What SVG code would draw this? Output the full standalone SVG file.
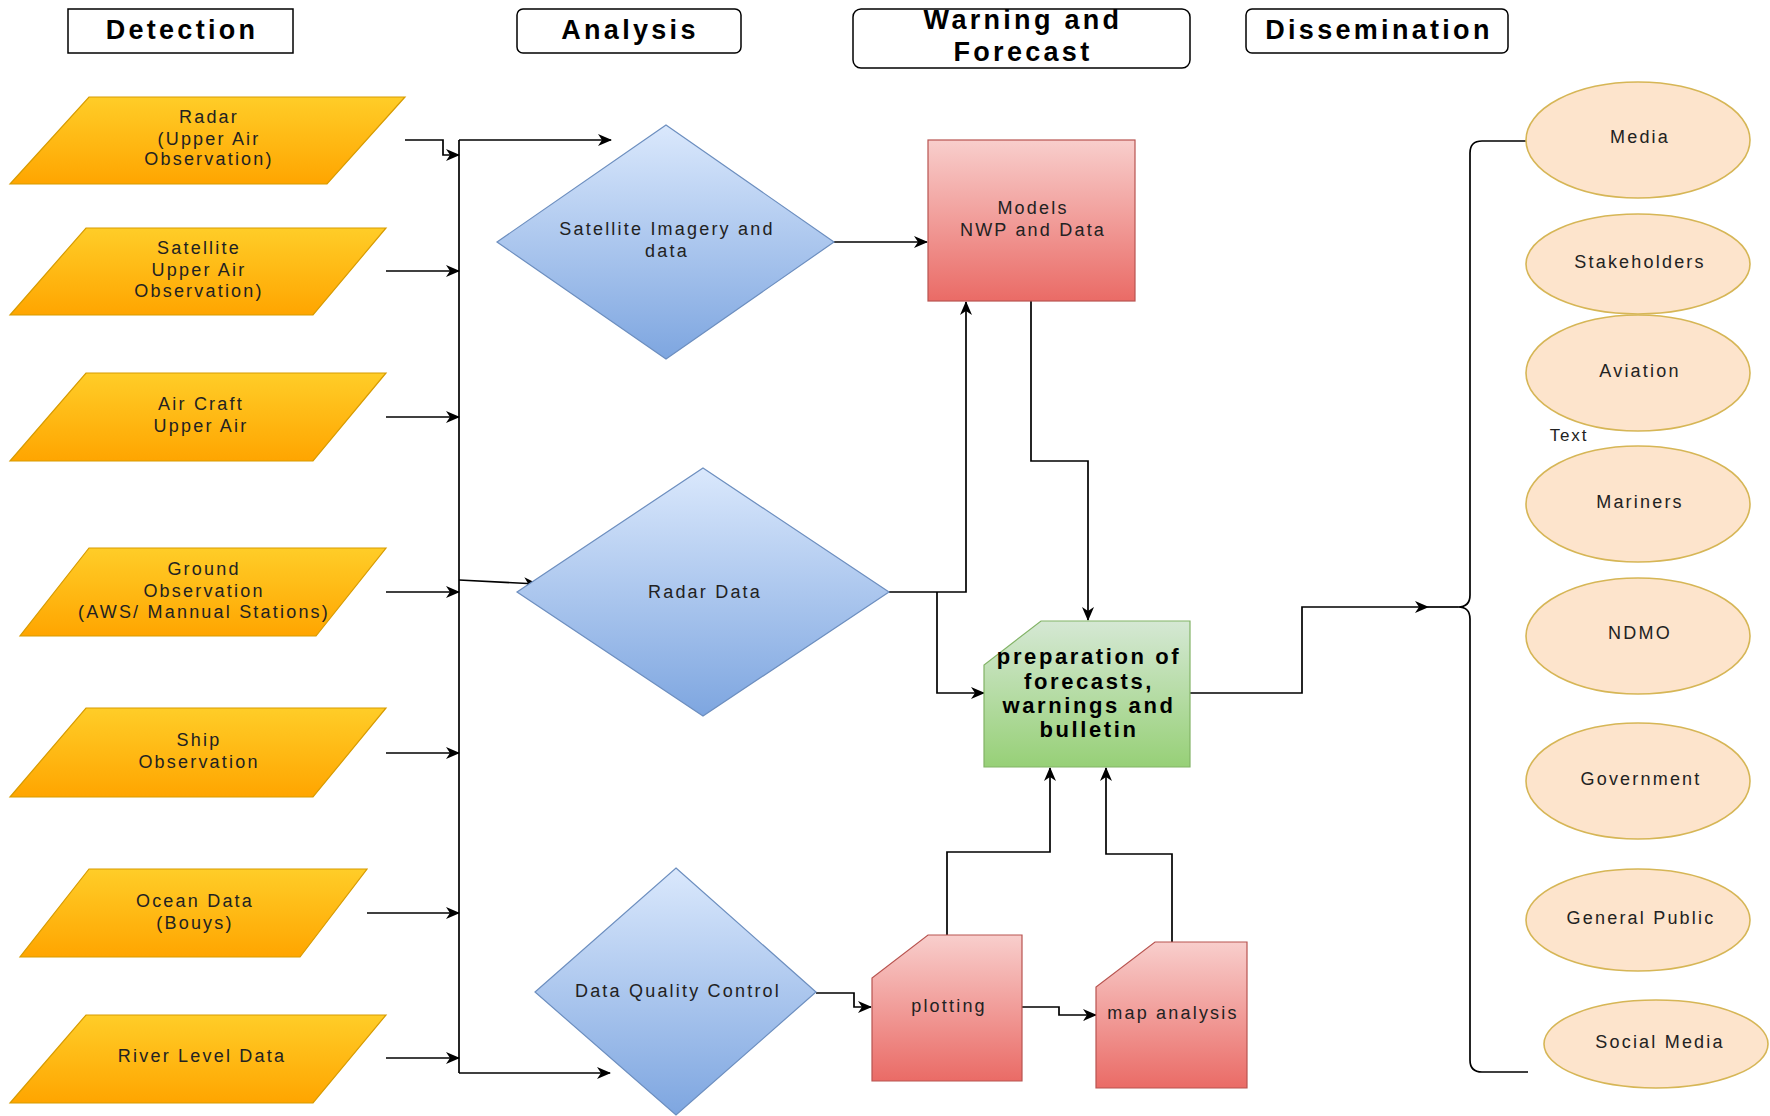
<svg xmlns="http://www.w3.org/2000/svg" width="1770" height="1116" viewBox="0 0 1770 1116">
<defs>
<linearGradient id="gOr" x1="0" y1="0" x2="0" y2="1"><stop offset="0" stop-color="#ffcd28"/><stop offset="1" stop-color="#ffa500"/></linearGradient>
<linearGradient id="gBl" x1="0" y1="0" x2="0" y2="1"><stop offset="0" stop-color="#dae8fc"/><stop offset="1" stop-color="#7ea6e0"/></linearGradient>
<linearGradient id="gRd" x1="0" y1="0" x2="0" y2="1"><stop offset="0" stop-color="#f8cecc"/><stop offset="1" stop-color="#ea6b66"/></linearGradient>
<linearGradient id="gGr" x1="0" y1="0" x2="0" y2="1"><stop offset="0" stop-color="#d5e8d4"/><stop offset="1" stop-color="#97d077"/></linearGradient>
<marker id="arr" markerUnits="userSpaceOnUse" markerWidth="14" markerHeight="12" viewBox="0 0 14 12" refX="13" refY="6" orient="auto">
<path d="M0,0 L14,6 L0,12 L4,6 Z" fill="#000"/>
</marker>
<style>
.hdr{fill:#fff;stroke:#000;stroke-width:1.5}
.ht{font-family:"Liberation Sans",Arial,sans-serif;font-size:27px;font-weight:bold;letter-spacing:3.3px;text-anchor:middle;fill:#000}
.t{font-family:"Liberation Sans",Arial,sans-serif;font-size:18px;letter-spacing:2.2px;text-anchor:middle;fill:#222}
.tb{font-family:"Liberation Sans",Arial,sans-serif;font-size:22px;font-weight:bold;letter-spacing:2.6px;text-anchor:middle;fill:#000}
.par{fill:url(#gOr);stroke:#d79b00;stroke-width:1.2}
.dia{fill:url(#gBl);stroke:#6c8ebf;stroke-width:1.2}
.red{fill:url(#gRd);stroke:#b85450;stroke-width:1.2}
.grn{fill:url(#gGr);stroke:#82b366;stroke-width:1.2}
.ell{fill:#fde4cc;stroke:#d6b656;stroke-width:1.6}
.c{fill:none;stroke:#000;stroke-width:1.7}
.ca{fill:none;stroke:#000;stroke-width:1.7;marker-end:url(#arr)}
</style>
</defs>
<rect width="1770" height="1116" fill="#fff"/>

<g id="hdr-detection"><rect class="hdr" x="68" y="9" width="225" height="44"/><text class="ht" x="182" y="39">Detection</text></g>
<g id="hdr-analysis"><rect class="hdr" x="517" y="9" width="224" height="44" rx="6"/><text class="ht" x="630" y="39">Analysis</text></g>
<g id="hdr-warning"><rect class="hdr" x="853" y="9" width="337" height="59" rx="8"/><text class="ht" x="1023" y="29">Warning and</text><text class="ht" x="1023" y="61">Forecast</text></g>
<g id="hdr-dissemination"><rect class="hdr" x="1246" y="9" width="262" height="44" rx="6"/><text class="ht" x="1379" y="39">Dissemination</text></g>

<g id="connectors">
<path class="ca" d="M405,140 H443 V155 H459"/>
<path class="c" d="M459,140 V1073"/>
<path class="ca" d="M459,140 H611"/>
<path class="ca" d="M459,1073 H610"/>
<path class="ca" d="M386,271 H459"/>
<path class="ca" d="M386,417 H459"/>
<path class="ca" d="M386,592 H459"/>
<path class="ca" d="M386,753 H459"/>
<path class="ca" d="M367,913 H459"/>
<path class="ca" d="M386,1058 H459"/>
<path class="ca" d="M459,580 L537,584"/>
<path class="ca" d="M834,242 H927"/>
<path class="ca" d="M889,592 H966 V302"/>
<path class="ca" d="M937,592 V693 H984"/>
<path class="ca" d="M1031,301 V461 H1088 V620"/>
<path class="ca" d="M1190,693 H1302 V607 H1428"/>
<path class="c" d="M1428,607 H1458"/>
<path class="c" d="M1528,141 H1482 Q1470,141 1470,153 V595 Q1470,607 1458,607 Q1470,607 1470,619 V1060 Q1470,1072 1482,1072 H1528"/>
<path class="ca" d="M816,993 H854 V1007 H871"/>
<path class="ca" d="M1022,1007 H1059 V1015 H1096"/>
<path class="ca" d="M947,935 V852 H1050 V768"/>
<path class="ca" d="M1172,942 V854 H1106 V768"/>
</g>

<g id="radar"><polygon class="par" points="89,97 405,97 327,184 10,184"/><text class="t" x="209" y="123">Radar</text><text class="t" x="209" y="145">(Upper Air</text><text class="t" x="209" y="165">Observation)</text></g>
<g id="satellite"><polygon class="par" points="86,228 386,228 313,315 10,315"/><text class="t" x="199" y="254">Satellite</text><text class="t" x="199" y="276">Upper Air</text><text class="t" x="199" y="297">Observation)</text></g>
<g id="aircraft"><polygon class="par" points="86,373 386,373 313,461 10,461"/><text class="t" x="201" y="410">Air Craft</text><text class="t" x="201" y="432">Upper Air</text></g>
<g id="ground"><polygon class="par" points="89,548 386,548 316,636 20,636"/><text class="t" x="204" y="575">Ground</text><text class="t" x="204" y="597">Observation</text><text class="t" x="204" y="618">(AWS/ Mannual Stations)</text></g>
<g id="ship"><polygon class="par" points="86,708 386,708 313,797 10,797"/><text class="t" x="199" y="746">Ship</text><text class="t" x="199" y="768">Observation</text></g>
<g id="ocean"><polygon class="par" points="89,869 367,869 300,957 20,957"/><text class="t" x="195" y="907">Ocean Data</text><text class="t" x="195" y="929">(Bouys)</text></g>
<g id="river"><polygon class="par" points="86,1015 386,1015 313,1103 10,1103"/><text class="t" x="202" y="1062">River Level Data</text></g>

<g id="sat-imagery"><polygon class="dia" points="666,125 834,242 666,359 497,242"/><text class="t" x="667" y="235">Satellite Imagery and</text><text class="t" x="667" y="257">data</text></g>
<g id="radar-data"><polygon class="dia" points="703,468 889,592 703,716 517,592"/><text class="t" x="705" y="598">Radar Data</text></g>
<g id="dqc"><polygon class="dia" points="676,868 816,992 676,1115 535,992"/><text class="t" x="678" y="997">Data Quality Control</text></g>

<g id="models"><rect class="red" x="928" y="140" width="207" height="161"/><text class="t" x="1033" y="214">Models</text><text class="t" x="1033" y="236">NWP and Data</text></g>
<g id="preparation"><polygon class="grn" points="1041,621 1190,621 1190,767 984,767 984,665"/><text class="tb" x="1089" y="664">preparation of</text><text class="tb" x="1089" y="689">forecasts,</text><text class="tb" x="1089" y="713">warnings and</text><text class="tb" x="1089" y="737">bulletin</text></g>
<g id="plotting"><polygon class="red" points="928,935 1022,935 1022,1081 872,1081 872,978"/><text class="t" x="949" y="1012">plotting</text></g>
<g id="map-analysis"><polygon class="red" points="1155,942 1247,942 1247,1088 1096,1088 1096,987"/><text class="t" x="1173" y="1019">map analysis</text></g>

<g id="media"><ellipse class="ell" cx="1638" cy="140" rx="112" ry="58"/><text class="t" x="1640" y="143">Media</text></g>
<g id="stakeholders"><ellipse class="ell" cx="1638" cy="264" rx="112" ry="50"/><text class="t" x="1640" y="268">Stakeholders</text></g>
<g id="aviation"><ellipse class="ell" cx="1638" cy="373" rx="112" ry="58"/><text class="t" x="1640" y="377">Aviation</text></g>
<g id="text-label"><text class="t" style="font-size:17px;letter-spacing:1.8px" x="1569" y="441">Text</text></g>
<g id="mariners"><ellipse class="ell" cx="1638" cy="504" rx="112" ry="58"/><text class="t" x="1640" y="508">Mariners</text></g>
<g id="ndmo"><ellipse class="ell" cx="1638" cy="636" rx="112" ry="58"/><text class="t" x="1640" y="639">NDMO</text></g>
<g id="government"><ellipse class="ell" cx="1638" cy="781" rx="112" ry="58"/><text class="t" x="1641" y="785">Government</text></g>
<g id="general-public"><ellipse class="ell" cx="1638" cy="920" rx="112" ry="51"/><text class="t" x="1641" y="924">General Public</text></g>
<g id="social-media"><ellipse class="ell" cx="1656" cy="1044" rx="112" ry="44"/><text class="t" x="1660" y="1048">Social Media</text></g>
</svg>
